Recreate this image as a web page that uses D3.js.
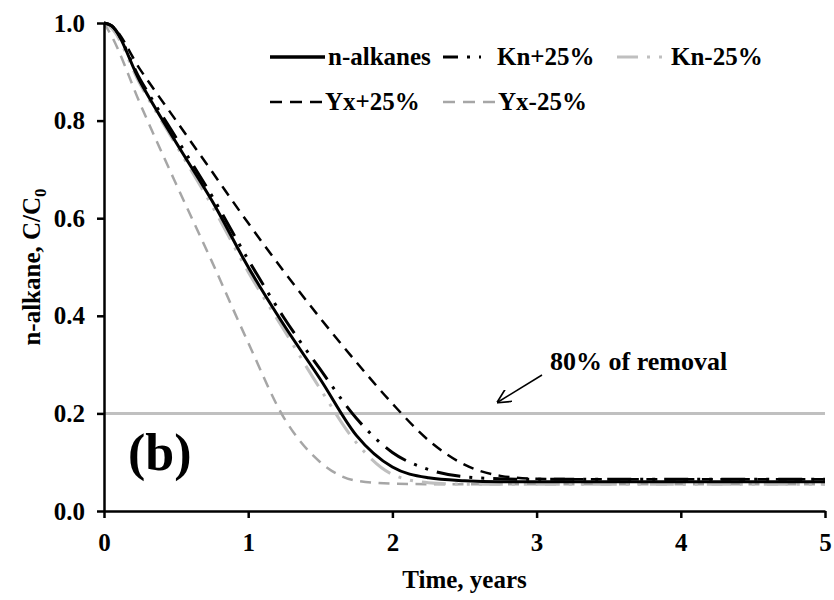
<!DOCTYPE html>
<html>
<head>
<meta charset="utf-8">
<script src="https://cdn.jsdelivr.net/npm/d3@7"></script>
<style>
  body { margin: 0; background: #fff; }
  svg text { font-family: "Liberation Serif", "Times New Roman", serif; font-weight: bold; fill: #000; }
</style>
</head>
<body>
<div class="line-chart-container"></div>
<script>
// time points (years) and C/C0
const times = [0, 0.05, 0.25, 0.5, 0.75, 1, 1.25, 1.5, 1.75, 2, 2.25, 2.5, 2.75, 3, 3.5, 4, 4.5, 5];
const nAlkanes = [1, 0.995, 0.88, 0.755, 0.635, 0.50, 0.38, 0.27, 0.155, 0.09, 0.068, 0.062, 0.06, 0.06, 0.06, 0.06, 0.06, 0.06];
const knPlus25 = [1, 0.995, 0.885, 0.765, 0.645, 0.515, 0.395, 0.29, 0.19, 0.12, 0.085, 0.07, 0.066, 0.065, 0.065, 0.065, 0.065, 0.065];
const knMinus25 = [1, 0.99, 0.875, 0.75, 0.625, 0.49, 0.37, 0.25, 0.14, 0.075, 0.058, 0.055, 0.055, 0.055, 0.055, 0.055, 0.055, 0.055];
const yxPlus25 = [1, 0.995, 0.905, 0.80, 0.695, 0.59, 0.49, 0.395, 0.305, 0.22, 0.145, 0.095, 0.072, 0.066, 0.065, 0.065, 0.065, 0.065];
const yxMinus25 = [1, 0.975, 0.835, 0.67, 0.51, 0.345, 0.19, 0.10, 0.062, 0.056, 0.055, 0.055, 0.055, 0.055, 0.055, 0.055, 0.055, 0.055];

const xTicks = [0, 1, 2, 3, 4, 5];
const yTicks = [0, 0.2, 0.4, 0.6, 0.8, 1.0];
const removalLevel = 0.2;

(function(){
    const svg_width = 834;
    const svg_height = 600;
    const margin = { top: 23, right: 9, bottom: 89, left: 104 };
    const chart_width = svg_width - margin.left - margin.right;
    const chart_height = svg_height - margin.top - margin.bottom;

    const svg = d3.select('.line-chart-container').append('svg')
        .attr('width', svg_width).attr('height', svg_height);
    const g = svg.append('g')
        .attr('transform', `translate(${margin.left},${margin.top})`);

    const xScale = d3.scaleLinear().domain([0, 5]).range([0, chart_width]);
    const yScale = d3.scaleLinear().domain([0, 1]).range([chart_height, 0]);

    const dashDotDot = '24,9,3,9,3,9';
    const dashed = '11,7.5';
    const series = [
        { name: 'Yx-25%', values: yxMinus25, color: '#a6a6a6', width: 2.5, dash: dashed },
        { name: 'Kn-25%', values: knMinus25, color: '#bfbfbf', width: 3, dash: dashDotDot },
        { name: 'Yx+25%', values: yxPlus25, color: '#000', width: 2.5, dash: dashed },
        { name: 'Kn+25%', values: knPlus25, color: '#000', width: 3, dash: dashDotDot },
        { name: 'n-alkanes', values: nAlkanes, color: '#000', width: 3, dash: null }
    ];

    // 80% removal line (C/C0 = 0.2)
    g.append('line')
        .attr('x1', xScale(0)).attr('x2', xScale(5))
        .attr('y1', yScale(removalLevel)).attr('y2', yScale(removalLevel))
        .style('stroke', '#c0c0c0').style('stroke-width', 3);

    const lineGen = d3.line()
        .x((d, i) => xScale(times[i]))
        .y(d => yScale(d))
        .curve(d3.curveMonotoneX);

    g.selectAll('.line-series').data(series).enter()
        .append('path')
        .attr('class', 'line-series')
        .attr('d', d => lineGen(d.values))
        .style('fill', 'none')
        .style('stroke', d => d.color)
        .style('stroke-width', d => d.width)
        .style('stroke-dasharray', d => d.dash);

    // axes
    const xAxis = d3.axisBottom(xScale).tickValues(xTicks).tickFormat(d3.format('d'))
        .tickSizeInner(7).tickSizeOuter(0).tickPadding(15);
    const xG = g.append('g').attr('transform', `translate(0,${chart_height})`).call(xAxis);

    const yAxis = d3.axisLeft(yScale).tickValues(yTicks).tickFormat(d3.format('.1f'))
        .tickSizeInner(7).tickSizeOuter(0).tickPadding(12);
    const yG = g.append('g').call(yAxis);

    [xG, yG].forEach(a => {
        a.select('.domain').style('stroke', '#000').style('stroke-width', 2.5);
        a.selectAll('.tick line').style('stroke', '#000').style('stroke-width', 2.5);
        a.selectAll('.tick text').style('font-size', '25px')
            .style('font-family', '"Liberation Serif", serif').style('font-weight', 'bold');
    });

    // axis titles
    svg.append('text')
        .attr('x', margin.left + chart_width / 2).attr('y', 588)
        .style('text-anchor', 'middle').style('font-size', '25px')
        .text('Time, years');

    const yTitle = svg.append('text')
        .attr('transform', `translate(40,${margin.top + chart_height / 2}) rotate(-90)`)
        .style('text-anchor', 'middle').style('font-size', '25px');
    yTitle.append('tspan').text('n-alkane, C/C');
    yTitle.append('tspan').text('0').attr('dy', 6).style('font-size', '17px');

    // panel letter
    svg.append('text').attr('x', 128).attr('y', 470)
        .style('font-size', '52px').text('(b)');

    // annotation with arrow
    svg.append('defs').append('marker')
        .attr('id', 'arrow').attr('viewBox', '0 0 10 10')
        .attr('refX', 9).attr('refY', 5)
        .attr('markerWidth', 14).attr('markerHeight', 14)
        .attr('markerUnits', 'userSpaceOnUse').attr('orient', 'auto')
        .append('path').attr('d', 'M0,0 L10,5 L0,10')
        .style('fill', 'none').style('stroke', '#000').style('stroke-width', 1.2);

    svg.append('line')
        .attr('x1', 542).attr('y1', 375).attr('x2', 498).attr('y2', 402)
        .style('stroke', '#000').style('stroke-width', 1.5)
        .attr('marker-end', 'url(#arrow)');
    svg.append('text').attr('x', 550).attr('y', 370)
        .style('font-size', '26px').text('80% of removal');

    // legend
    const legendItems = [
        { s: series[4], x: 270, y: 57, len: 55, offset: 0 },
        { s: series[3], x: 443, y: 57, len: 38, offset: 9 },
        { s: series[1], x: 617, y: 57, len: 45, offset: 3 },
        { s: series[2], x: 270, y: 102, len: 52, offset: 0 },
        { s: series[0], x: 443, y: 102, len: 52, offset: 0 }
    ];
    const legend = svg.append('g').attr('class', 'legend');
    const item = legend.selectAll('.item').data(legendItems).enter()
        .append('g').attr('transform', d => `translate(${d.x},${d.y})`);
    item.append('line')
        .attr('x1', 0).attr('x2', d => d.len).attr('y1', 0).attr('y2', 0)
        .style('stroke', d => d.s.color)
        .style('stroke-width', d => d.s.dash ? d.s.width : 3.5)
        .style('stroke-dasharray', d => d.s.dash ? (d.s.dash === dashed ? '12,8' : d.s.dash) : null)
        .style('stroke-dashoffset', d => d.offset);
    item.append('text')
        .attr('x', d => d.s.dash === dashDotDot ? 54 : d.len + 3).attr('y', 8)
        .style('font-size', '25px')
        .text(d => d.s.name);
})();
</script>
</body>
</html>
